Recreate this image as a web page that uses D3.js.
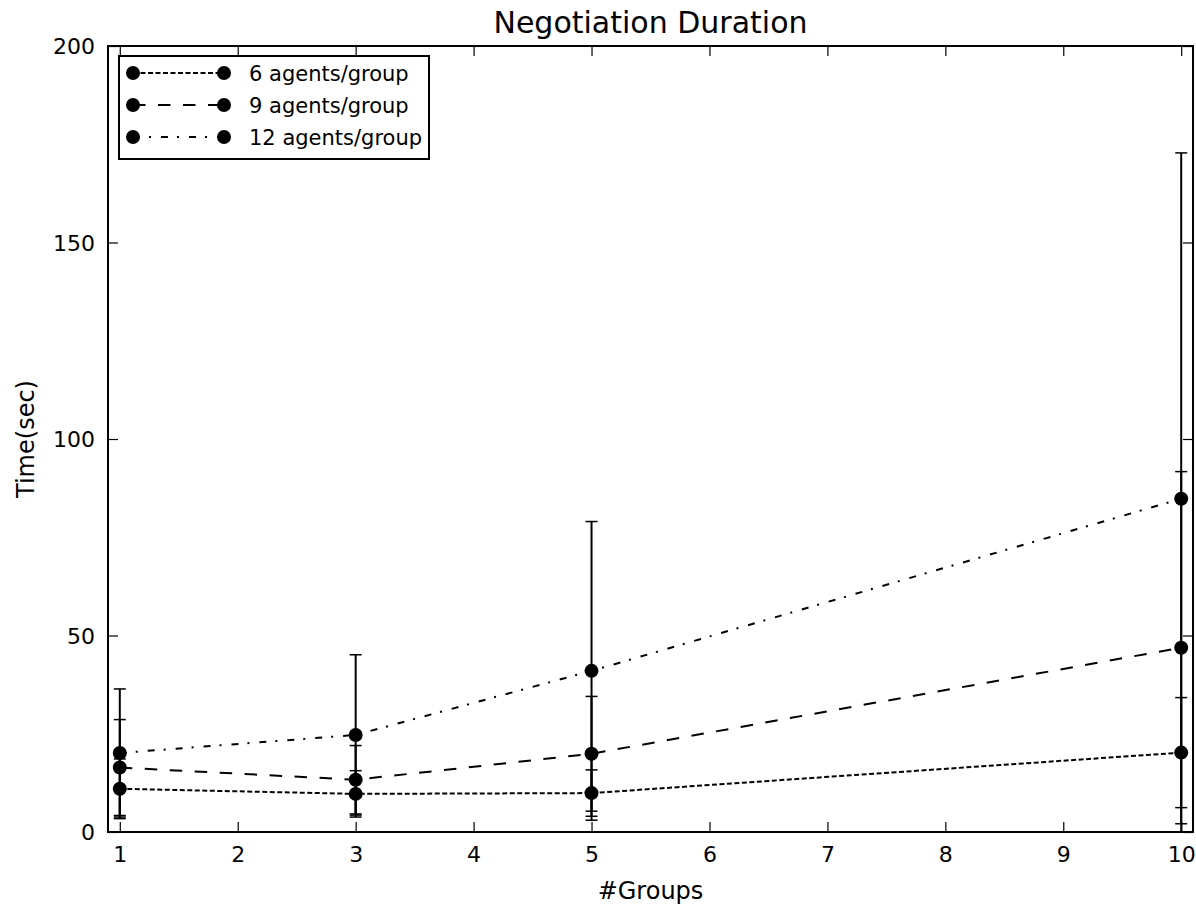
<!DOCTYPE html>
<html>
<head>
<meta charset="utf-8">
<script src="https://cdn.jsdelivr.net/npm/d3@7"></script>
<style>
  body { margin: 0; background: #fff; }
  text { font-family: "DejaVu Sans", sans-serif; fill: #000; }
</style>
</head>
<body>
<div id="chart"></div>
<script>
// values
var groups = [1, 3, 5, 10];
var mean6 = [11.0, 9.7, 9.9, 20.2];
var err6 = [7.6, 5.9, 5.9, 14.0];
var mean9 = [16.4, 13.3, 19.9, 46.9];
var err9 = [12.2, 8.7, 14.6, 44.8];
var mean12 = [20.1, 24.7, 41.0, 84.8];
var err12 = [16.3, 20.4, 38.0, 88.0];
var seriesNames = ["6 agents/group", "9 agents/group", "12 agents/group"];
var xTicks = [1, 2, 3, 4, 5, 6, 7, 8, 9, 10];
var yTicks = [0, 50, 100, 150, 200];

var width = 1196;
var height = 909;
var margin = {top: 46, right: 3, bottom: 77, left: 108};

var svg = d3.select("#chart")
    .append("svg")
    .attr("width", width)
    .attr("height", height);

var x = d3.scaleLinear().domain([0.9, 10.1]).range([margin.left, width - margin.right]);
var y = d3.scaleLinear().domain([0, 200]).range([height - margin.bottom, margin.top]);

svg.append("clipPath").attr("id", "plotclip")
    .append("rect")
    .attr("x", margin.left).attr("y", margin.top)
    .attr("width", width - margin.left - margin.right)
    .attr("height", height - margin.top - margin.bottom);

var series = [
    {name: seriesNames[0], mean: mean6, err: err6, dash: "5,2.5"},
    {name: seriesNames[1], mean: mean9, err: err9, dash: "12.5,12.5"},
    {name: seriesNames[2], mean: mean12, err: err12, dash: "7,9,2,10"}
];

var plot = svg.append("g").attr("clip-path", "url(#plotclip)");

var line = d3.line()
    .x(function(d) { return x(d.g); })
    .y(function(d) { return y(d.v); });

series.forEach(function(s) {
    var pts = groups.map(function(g, i) { return {g: g, v: s.mean[i], e: s.err[i]}; });

    // error bars
    var eb = plot.append("g");
    eb.selectAll("line.bar").data(pts).enter().append("line")
        .attr("x1", function(d) { return x(d.g); })
        .attr("x2", function(d) { return x(d.g); })
        .attr("y1", function(d) { return y(d.v - d.e); })
        .attr("y2", function(d) { return y(d.v + d.e); })
        .attr("stroke", "#000").attr("stroke-width", 2);
    [-1, 1].forEach(function(sign) {
        eb.selectAll("line.cap" + sign).data(pts).enter().append("line")
            .attr("x1", function(d) { return x(d.g) - 6; })
            .attr("x2", function(d) { return x(d.g) + 6; })
            .attr("y1", function(d) { return y(d.v + sign * d.e); })
            .attr("y2", function(d) { return y(d.v + sign * d.e); })
            .attr("stroke", "#000").attr("stroke-width", 1.5);
    });

    plot.append("path")
        .datum(pts)
        .attr("d", line)
        .attr("fill", "none")
        .attr("stroke", "#000")
        .attr("stroke-width", 2)
        .attr("stroke-dasharray", s.dash);

    plot.selectAll(null).data(pts).enter().append("circle")
        .attr("cx", function(d) { return x(d.g); })
        .attr("cy", function(d) { return y(d.v); })
        .attr("r", 7)
        .attr("fill", "#000");
});

// axes, ticks inside on all four sides
var tickLen = 10;
var xb = svg.append("g").attr("transform", "translate(0," + y(0) + ")")
    .call(d3.axisBottom(x).tickValues(xTicks).tickSizeInner(-tickLen).tickSizeOuter(0).tickPadding(14).tickFormat(d3.format("d")));
var xt = svg.append("g").attr("transform", "translate(0," + y(200) + ")")
    .call(d3.axisTop(x).tickValues(xTicks).tickSizeInner(-tickLen).tickSizeOuter(0).tickFormat(""));
var yl = svg.append("g").attr("transform", "translate(" + x(0.9) + ",0)")
    .call(d3.axisLeft(y).tickValues(yTicks).tickSizeInner(-tickLen).tickSizeOuter(0).tickPadding(13));
var yr = svg.append("g").attr("transform", "translate(" + x(10.1) + ",0)")
    .call(d3.axisRight(y).tickValues(yTicks).tickSizeInner(-tickLen).tickSizeOuter(0).tickFormat(""));

[xb, xt, yl, yr].forEach(function(a) {
    a.select(".domain").remove();
    a.selectAll(".tick line").attr("stroke", "#000").attr("stroke-width", 1.2);
    a.selectAll("text").style("font-size", "22px").style("font-family", "DejaVu Sans");
});
yl.selectAll(".tick text").attr("dy", "0.36em");

svg.append("rect")
    .attr("x", x(0.9)).attr("y", y(200))
    .attr("width", x(10.1) - x(0.9))
    .attr("height", y(0) - y(200))
    .attr("fill", "none")
    .attr("stroke", "#000")
    .attr("stroke-width", 2);

// title and labels
svg.append("text")
    .attr("x", (x(0.9) + x(10.1)) / 2).attr("y", 33)
    .attr("text-anchor", "middle")
    .style("font-size", "30px")
    .text("Negotiation Duration");

svg.append("text")
    .attr("x", (x(0.9) + x(10.1)) / 2).attr("y", 899)
    .attr("text-anchor", "middle")
    .style("font-size", "24px")
    .text("#Groups");

svg.append("text")
    .attr("transform", "translate(34," + (y(0) + y(200)) / 2 + ") rotate(-90)")
    .attr("text-anchor", "middle")
    .style("font-size", "24px")
    .text("Time(sec)");

// legend
var legend = svg.append("g");
legend.append("rect")
    .attr("x", 119).attr("y", 56)
    .attr("width", 310).attr("height", 103)
    .attr("fill", "#fff")
    .attr("stroke", "#000")
    .attr("stroke-width", 2);

var rowY = [73, 105, 137];
series.forEach(function(s, i) {
    var g = legend.append("g").attr("transform", "translate(0," + rowY[i] + ")");
    g.append("line")
        .attr("x1", 133).attr("x2", 224)
        .attr("stroke", "#000").attr("stroke-width", 2)
        .attr("stroke-dasharray", s.dash);
    g.append("circle").attr("cx", 133).attr("r", 7).attr("fill", "#000");
    g.append("circle").attr("cx", 224).attr("r", 7).attr("fill", "#000");
    g.append("text")
        .attr("x", 249).attr("dy", "0.36em")
        .style("font-size", "21px")
        .text(s.name);
});
</script>
</body>
</html>
